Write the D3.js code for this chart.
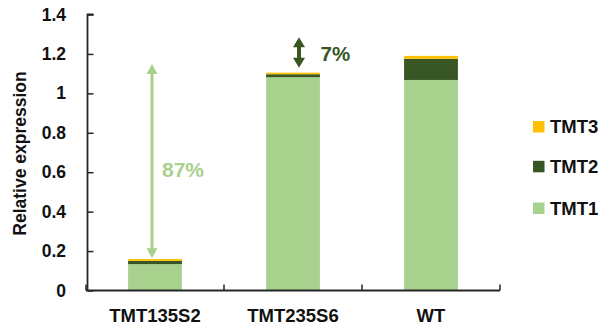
<!DOCTYPE html>
<html><head><meta charset="utf-8">
<script src="https://cdn.jsdelivr.net/npm/d3@7/dist/d3.min.js"></script>
<style>body{margin:0;background:#fff}svg{display:block}text{font-family:"Liberation Sans",Arial,sans-serif;font-weight:bold}</style>
</head><body><svg id="c" width="601" height="328"></svg>
<script>
const categories = ["TMT135S2", "TMT235S6", "WT"];
const seriesNames = ["TMT1", "TMT2", "TMT3"];
const tmt1 = [0.134, 1.082, 1.068];
const tmt2 = [0.017, 0.015, 0.107];
const tmt3 = [0.009, 0.008, 0.015];
const yTicks = [0, 0.2, 0.4, 0.6, 0.8, 1, 1.2, 1.4];
const yTickLabels = ["0", "0.2", "0.4", "0.6", "0.8", "1", "1.2", "1.4"];
const colors = ["#a9d18e", "#375623", "#ffc000"];
// annotations: category, from value, to value, label
const arrowCats = ["TMT135S2", "TMT235S6"];
const arrowTop = [1.149, 1.285];
const arrowBottom = [0.164, 1.13];
const arrowLabels = ["87%", "7%"];
const arrowColors = ["#a9d18e", "#375623"];

const svg = d3.select("#c");
const x = d3.scaleBand().domain(categories).range([86, 500]).paddingInner(0.61).paddingOuter(0.305);
const y = d3.scaleLinear().domain([0, 1.4]).range([290.5, 14.5]);

const rows = categories.map((c, i) => ({cat: c, TMT1: tmt1[i], TMT2: tmt2[i], TMT3: tmt3[i]}));
const stack = d3.stack().keys(seriesNames)(rows);

svg.append("g").selectAll("g").data(stack).join("g")
  .attr("fill", (d, i) => colors[i])
  .selectAll("rect").data(d => d).join("rect")
  .attr("x", d => x(d.data.cat))
  .attr("width", x.bandwidth())
  .attr("y", d => y(d[1]))
  .attr("height", d => y(d[0]) - y(d[1]));

const axisColor = "#262626";
// Y axis with inward ticks
const yAxis = svg.append("g").attr("transform", "translate(87.5,0)")
  .call(d3.axisRight(y).tickValues(yTicks).tickSize(6).tickFormat(""));
yAxis.select(".domain").attr("stroke", axisColor).attr("stroke-width", 1.8).attr("d", `M6,${y(1.4)}H0V${y(0)}`);
yAxis.selectAll(".tick line").attr("stroke", axisColor).attr("stroke-width", 1.5);
svg.append("g").selectAll("text").data(yTicks).join("text")
  .attr("x", 66).attr("y", d => y(d) + 6)
  .attr("text-anchor", "end").attr("font-size", 17.5).attr("fill", "#111")
  .text((d, i) => yTickLabels[i]);

// X axis
const step = x.step();
const bounds = [86, 86 + step, 86 + 2 * step, 500];
svg.append("path").attr("d", `M86,${y(0)}H500`).attr("stroke", axisColor).attr("stroke-width", 1.8).attr("fill", "none");
svg.append("g").selectAll("line").data(bounds).join("line")
  .attr("x1", d => d).attr("x2", d => d).attr("y1", y(0)).attr("y2", y(0) - 6)
  .attr("stroke", axisColor).attr("stroke-width", 1.5);
svg.append("g").selectAll("text").data(categories).join("text")
  .attr("x", d => x(d) + x.bandwidth() / 2).attr("y", 322)
  .attr("text-anchor", "middle").attr("font-size", 18.5).attr("fill", "#111")
  .text(d => d);

// Y title
svg.append("text").attr("transform", "translate(25.5,153.5) rotate(-90)")
  .attr("text-anchor", "middle").attr("font-size", 17.5).attr("fill", "#111")
  .text("Relative expression");

// Arrows
const defs = svg.append("defs");
arrowColors.forEach((c, i) => {
  const cx = i === 0 ? x(arrowCats[i]) + x.bandwidth() / 2 - 3 : x(arrowCats[i]) + x.bandwidth() / 2 + 6;
  const t = y(arrowTop[i]), b = y(arrowBottom[i]);
  const hw = i === 0 ? 5.5 : 6, hh = i === 0 ? 10 : 10;
  const lw = i === 0 ? 3 : 4;
  svg.append("line").attr("x1", cx).attr("x2", cx).attr("y1", t + hh - 1).attr("y2", b - hh + 1)
    .attr("stroke", c).attr("stroke-width", lw);
  svg.append("path").attr("d", `M${cx},${t}L${cx + hw},${t + hh}L${cx - hw},${t + hh}Z`).attr("fill", c);
  svg.append("path").attr("d", `M${cx},${b}L${cx + hw},${b - hh}L${cx - hw},${b - hh}Z`).attr("fill", c);
});
svg.append("text").attr("x", 162).attr("y", 177).attr("font-size", 21).attr("fill", arrowColors[0]).text(arrowLabels[0]);
svg.append("text").attr("x", 320.5).attr("y", 61).attr("font-size", 20.5).attr("fill", arrowColors[1]).text(arrowLabels[1]);

// Legend
const legendY = [208, 166.3, 126.5];
const lg = svg.append("g").selectAll("g").data(seriesNames).join("g")
  .attr("transform", (d, i) => `translate(533,${legendY[i]})`);
lg.append("rect").attr("x", 0).attr("y", -5.5).attr("width", 11.5).attr("height", 11.5).attr("fill", (d, i) => colors[i]);
lg.append("text").attr("x", 17).attr("y", 6.5).attr("font-size", 18.5).attr("fill", "#111").text(d => d);
</script></body></html>
